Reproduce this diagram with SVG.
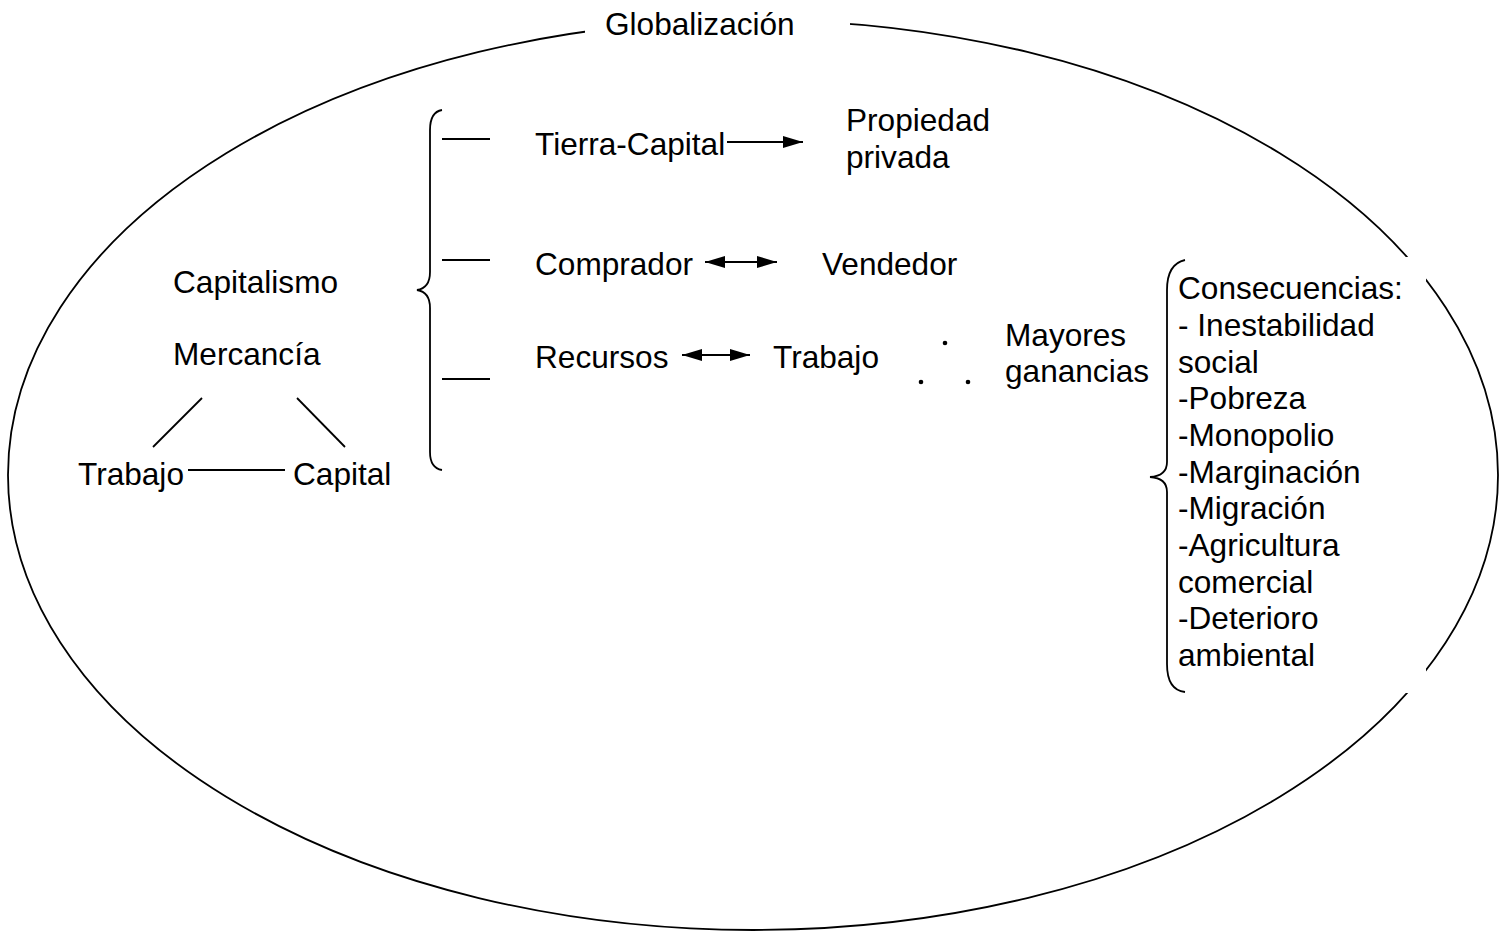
<svg xmlns="http://www.w3.org/2000/svg" width="1504" height="934" viewBox="0 0 1504 934">
<style>
text{font-family:"Liberation Sans",Arial,sans-serif;font-size:31.6px;fill:#000}
.ln{stroke:#000;stroke-width:1.8;fill:none}
</style>
<defs>
<marker id="ah" viewBox="0 0 20 12" refX="20" refY="6" markerWidth="20" markerHeight="12" markerUnits="userSpaceOnUse" orient="auto-start-reverse"><path d="M0,0 L20,6 L0,12 z" fill="#000"/></marker>
</defs>
<rect width="1504" height="934" fill="#fff"/>
<g id="globalizacion">
<ellipse cx="753" cy="475" rx="745" ry="455" class="ln"/>
<rect x="585" y="0" width="265" height="50" fill="#fff"/>
<text x="605" y="35">Globalización</text>
</g>
<g id="capitalismo"><text x="173" y="293">Capitalismo</text></g>
<g id="mercancia"><text x="173" y="365">Mercancía</text></g>
<g id="trabajo1"><text x="78" y="485">Trabajo</text></g>
<g id="capital"><text x="293" y="485">Capital</text></g>
<g id="brace1"><path class="ln" d="M442,110 Q430,112 430,130 L430,272 Q430,288 417,290 Q430,292 430,308 L430,452 Q430,468 442,470"/></g>
<g id="tierra"><text x="535" y="155">Tierra-Capital</text></g>
<g id="propiedad"><text x="846" y="131">Propiedad</text><text x="846" y="168">privada</text></g>
<g id="comprador"><text x="535" y="275">Comprador</text></g>
<g id="vendedor"><text x="822" y="275">Vendedor</text></g>
<g id="recursos"><text x="535" y="368">Recursos</text></g>
<g id="trabajo2"><text x="773" y="368">Trabajo</text></g>
<g id="therefore"><circle cx="945" cy="343" r="2.3"/><circle cx="921" cy="382" r="2.3"/><circle cx="968" cy="382" r="2.3"/></g>
<g id="mayores"><text x="1005" y="346">Mayores</text><text x="1005" y="382">ganancias</text></g>
<g id="consecuencias">
<rect x="1160" y="257" width="266" height="436" fill="#fff"/>
<path class="ln" d="M1185,260 Q1167,264 1167,290 L1167,462 Q1167,476 1150,477 Q1167,478 1167,492 L1167,664 Q1167,690 1185,692"/>
<text x="1178" y="299">Consecuencias:</text>
<text x="1178" y="336">- Inestabilidad</text>
<text x="1178" y="372.5">social</text>
<text x="1178" y="409">-Pobreza</text>
<text x="1178" y="446">-Monopolio</text>
<text x="1178" y="482.5">-Marginación</text>
<text x="1178" y="519">-Migración</text>
<text x="1178" y="556">-Agricultura</text>
<text x="1178" y="592.5">comercial</text>
<text x="1178" y="629">-Deterioro</text>
<text x="1178" y="666">ambiental</text>
</g>
<g id="connectors">
<line class="ln" x1="202" y1="398" x2="153" y2="447"/>
<line class="ln" x1="297" y1="398" x2="345" y2="447"/>
<line class="ln" x1="188" y1="470" x2="285" y2="470"/>
<line class="ln" x1="442" y1="139" x2="490" y2="139"/>
<line class="ln" x1="442" y1="260" x2="490" y2="260"/>
<line class="ln" x1="442" y1="379" x2="490" y2="379"/>
<line class="ln" x1="727" y1="142" x2="803" y2="142" marker-end="url(#ah)"/>
<line class="ln" x1="705" y1="262" x2="777" y2="262" marker-start="url(#ah)" marker-end="url(#ah)"/>
<line class="ln" x1="682" y1="355" x2="750" y2="355" marker-start="url(#ah)" marker-end="url(#ah)"/>
</g>
</svg>
